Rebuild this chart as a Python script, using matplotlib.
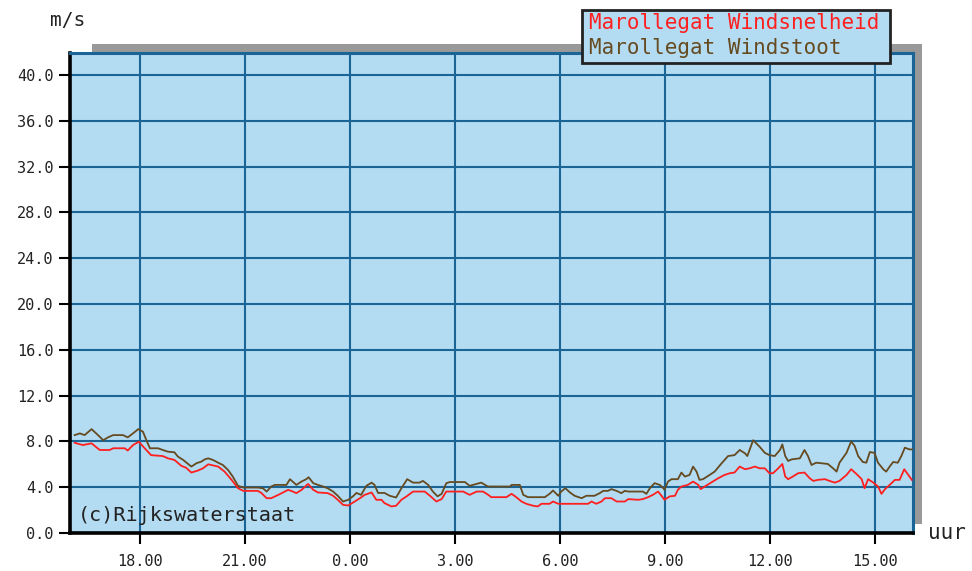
import matplotlib
matplotlib.use('Agg')
import matplotlib.pyplot as plt
from matplotlib.patches import Rectangle

# minuten sinds 16:00 en waarden in m/s
t_stoot = [8, 17, 25, 37, 48, 57, 65, 74, 91, 99, 108, 117, 125, 131, 137, 151, 159, 168, 179, 185,
           194, 208, 217, 225, 231, 237, 245, 254, 262, 271, 279, 288, 297, 322, 331, 337, 345, 351,
           371, 377, 388, 397, 405, 409, 417, 425, 434, 442, 451, 459, 468, 477, 485, 491, 499, 508,
           517, 522, 528, 539, 548, 559, 568, 578, 588, 599, 605, 614, 622, 630, 637, 645, 651, 677,
           685, 697, 705, 714, 717, 754, 757, 771, 777, 785, 814, 822, 828, 837, 842, 849, 857, 865,
           877, 885, 899, 908, 914, 922, 928, 937, 945, 951, 957, 982, 988, 994, 1002, 1011, 1017,
           1019, 1025, 1031, 1042, 1048, 1054, 1062, 1068, 1074, 1079, 1085, 1094, 1105, 1117, 1128,
           1139, 1148, 1157, 1161, 1171, 1177, 1182, 1191, 1199, 1208, 1217, 1221, 1226, 1231, 1237,
           1251, 1259, 1265, 1271, 1279, 1299, 1308, 1314, 1319, 1331, 1339, 1345, 1351, 1359, 1365,
           1371, 1379, 1385, 1394, 1399, 1405, 1411, 1419, 1425, 1431, 1439, 1445]
v_stoot = [8.55, 8.7, 8.55, 9.07, 8.55, 8.1, 8.35, 8.55, 8.55, 8.35, 8.7, 9.07, 8.85, 8.1, 7.4, 7.4,
           7.25, 7.1, 7.05, 6.67, 6.38, 5.8, 6.1, 6.23, 6.43, 6.52, 6.38, 6.14, 5.94, 5.5, 4.93, 4.12,
           3.97, 3.97, 3.9, 3.62, 4.06, 4.2, 4.2, 4.7, 4.2, 4.5, 4.7, 4.87, 4.35, 4.2, 4.06, 3.9, 3.62,
           3.25, 2.75, 2.9, 3.2, 3.5, 3.33, 4.12, 4.4, 4.2, 3.5, 3.5, 3.25, 3.1, 3.9, 4.7, 4.4, 4.4,
           4.55, 4.2, 3.62, 3.2, 3.42, 4.35, 4.45, 4.45, 4.12, 4.29, 4.4, 4.12, 4.06, 4.06, 4.2, 4.2,
           3.33, 3.13, 3.13, 3.42, 3.71, 3.25, 3.62, 3.91, 3.54, 3.25, 3.04, 3.25, 3.25, 3.48, 3.68,
           3.68, 3.83, 3.68, 3.48, 3.68, 3.62, 3.62, 3.42, 3.91, 4.35, 4.2, 3.91, 3.77, 4.49, 4.7, 4.7,
           5.28, 4.93, 5.07, 5.8, 5.36, 4.64, 4.7, 4.99, 5.36, 6.09, 6.72, 6.8, 7.25, 6.96, 6.72, 8.1,
           7.8, 7.54, 7.0, 6.8, 6.72, 7.25, 7.74, 6.72, 6.29, 6.43, 6.52, 7.25, 6.72, 5.94, 6.14, 6.03,
           5.65, 5.36, 6.14, 7.0, 8.0, 7.6, 6.72, 6.2, 6.14, 7.07, 7.0, 6.14, 5.57, 5.36, 5.8, 6.2,
           6.14, 6.72, 7.45, 7.3, 7.3]

t_snel = [8, 22, 37, 51, 68, 74, 94, 99, 108, 118, 128, 139, 159, 168, 179, 191, 199, 208, 219, 228,
          237, 254, 265, 277, 288, 297, 322, 328, 337, 345, 357, 374, 382, 388, 397, 408, 417, 425,
          442, 451, 459, 468, 477, 488, 497, 505, 517, 525, 534, 539, 551, 559, 568, 577, 588, 608,
          617, 628, 637, 645, 674, 685, 697, 708, 717, 722, 748, 757, 765, 774, 782, 794, 802, 808,
          822, 828, 837, 888, 894, 902, 911, 917, 928, 937, 951, 957, 974, 982, 991, 999, 1008, 1014,
          1019, 1028, 1037, 1042, 1048, 1059, 1068, 1077, 1081, 1088, 1099, 1111, 1122, 1131, 1139,
          1148, 1157, 1165, 1174, 1182, 1191, 1199, 1205, 1214, 1221, 1226, 1231, 1239, 1248, 1259,
          1268, 1274, 1282, 1294, 1302, 1311, 1319, 1331, 1339, 1348, 1357, 1362, 1368, 1377, 1385,
          1391, 1397, 1405, 1414, 1422, 1430, 1437, 1443]
v_snel = [7.88, 7.68, 7.83, 7.25, 7.25, 7.4, 7.4, 7.2, 7.68, 7.97, 7.4, 6.8, 6.72, 6.52, 6.38, 5.86,
          5.7, 5.28, 5.45, 5.65, 6.0, 5.8, 5.36, 4.64, 3.91, 3.68, 3.68, 3.5, 3.04, 3.04, 3.33, 3.77,
          3.62, 3.48, 3.77, 4.29, 3.77, 3.54, 3.48, 3.25, 2.9, 2.46, 2.4, 2.75, 3.04, 3.33, 3.54, 2.9,
          2.9, 2.61, 2.32, 2.38, 2.9, 3.2, 3.62, 3.62, 3.25, 2.75, 2.96, 3.62, 3.62, 3.33, 3.62, 3.62,
          3.33, 3.13, 3.13, 3.42, 3.13, 2.75, 2.55, 2.38, 2.32, 2.55, 2.55, 2.75, 2.55, 2.55, 2.75,
          2.55, 2.75, 3.04, 3.04, 2.75, 2.75, 2.96, 2.9, 2.96, 3.13, 3.33, 3.62, 3.25, 2.9, 3.2, 3.25,
          3.77, 4.06, 4.2, 4.49, 4.2, 3.83, 4.06, 4.4, 4.78, 5.07, 5.22, 5.28, 5.8, 5.57, 5.65, 5.8,
          5.65, 5.65, 5.22, 5.22, 5.65, 6.03, 4.93, 4.7, 4.93, 5.22, 5.28, 4.78, 4.55, 4.64, 4.7, 4.55,
          4.4, 4.55, 5.07, 5.57, 5.16, 4.7, 3.91, 4.7, 4.4, 4.06, 3.42, 3.83, 4.2, 4.64, 4.64, 5.57,
          5.07, 4.64]

x_ticks = [120, 300, 480, 660, 840, 1020, 1200, 1380]
x_labels = ['18.00', '21.00', '0.00', '3.00', '6.00', '9.00', '12.00', '15.00']
y_ticks = [0, 4, 8, 12, 16, 20, 24, 28, 32, 36, 40]

naam_snel = 'Marollegat Windsnelheid'
naam_stoot = 'Marollegat Windstoot'

blauw = '#b3dbf2'
raster = '#1a6496'
mono = 'DejaVu Sans Mono'

fig = plt.figure(figsize=(9.72, 5.71), dpi=100)
W, H = 972, 571

# grijze schaduw achter het plotvlak
fig.add_artist(Rectangle((92 / W, 1 - 524 / H), 830 / W, 480 / H,
                         transform=fig.transFigure, facecolor='#999999', edgecolor='none', zorder=0))

ax = fig.add_axes([70 / W, 1 - 533 / H, 843 / W, 480 / H])
ax.set_facecolor(blauw)
ax.set_zorder(1)

ax.plot(t_stoot, v_stoot, color='#664a20', lw=1.3, zorder=3)
ax.plot(t_snel, v_snel, color='#ff1f1f', lw=1.3, zorder=4)

ax.set_xlim(0, 1445)
ax.set_ylim(0, 41.92)
ax.set_xticks(x_ticks)
ax.set_xticklabels(x_labels)
ax.set_yticks(y_ticks)
ax.set_yticklabels(['%.1f' % v for v in y_ticks])
ax.grid(True, color=raster, lw=1.5)
ax.set_axisbelow(True)

for s in ['left', 'bottom']:
    ax.spines[s].set_color('black')
    ax.spines[s].set_linewidth(2.6)
for s in ['top', 'right']:
    ax.spines[s].set_color(raster)
    ax.spines[s].set_linewidth(2.2)

ax.tick_params(axis='both', direction='out', length=8, width=1.5, color='black',
               labelsize=11, labelcolor='#222222')
ax.tick_params(axis='x', pad=7)
ax.tick_params(axis='y', pad=4)
for lab in ax.get_xticklabels() + ax.get_yticklabels():
    lab.set_family(mono)

ax.text(0.0095, 0.037, '(c)Rijkswaterstaat', transform=ax.transAxes, fontsize=14.5,
        family=mono, color='#222222', va='center', ha='left', zorder=5)

fig.text(68 / W, 1 - 20 / H, 'm/s', fontsize=14, family=mono, color='#222222',
         ha='center', va='center')
fig.text(947 / W, 1 - 533 / H, 'uur', fontsize=15, family=mono, color='#222222',
         ha='center', va='center')

# legenda bovenaan
fig.add_artist(Rectangle((582 / W, 1 - 63 / H), 308 / W, 53 / H, transform=fig.transFigure,
                         facecolor=blauw, edgecolor='#222222', lw=2, zorder=10))
fig.text(589 / W, 1 - 23 / H, naam_snel, fontsize=15, family=mono, color='#ff1f1f',
         ha='left', va='center', zorder=11)
fig.text(589 / W, 1 - 48 / H, naam_stoot, fontsize=15, family=mono, color='#664a20',
         ha='left', va='center', zorder=11)

fig.savefig('out.png', dpi=100)
